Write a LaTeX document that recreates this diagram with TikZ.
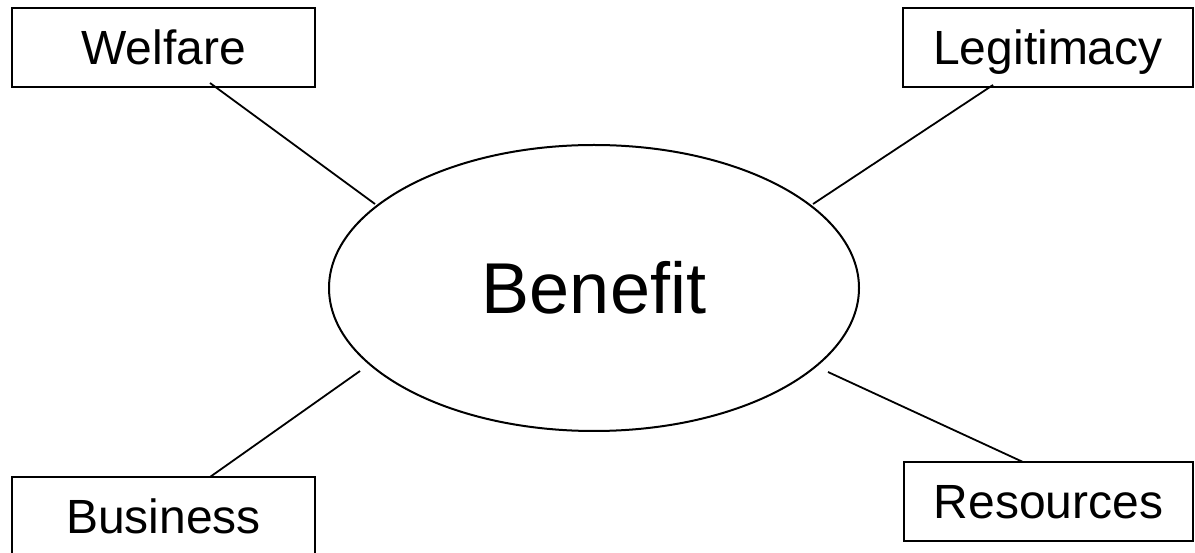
\documentclass[tikz,border=0pt]{standalone}
\usepackage{fontspec}
\setmainfont{Liberation Sans}
\usetikzlibrary{shapes.geometric,calc}
\tikzset{
  box/.style={draw, line width=2pt, rectangle, inner sep=0pt, outer sep=0pt,
    minimum width=#1, minimum height=79pt, text height=34pt, text depth=0pt,
    font=\fontsize{48}{56}\selectfont},
  oval/.style={draw, line width=2pt, ellipse, inner sep=0pt, outer sep=0pt,
    minimum width=530pt, minimum height=286pt, text height=52pt, text depth=0pt,
    font=\fontsize{72}{86}\selectfont},
  link/.style={line width=1.8pt}
}
\begin{document}
\begin{tikzpicture}[x=1pt,y=-1pt]
\useasboundingbox (0,0) rectangle (1195,553);
\node[box=303pt] (wel) at (163.5,47.5) {Welfare};
\node[box=290pt] (leg) at (1048,47.5) {Legitimacy};
\node[box=303pt] (bus) at (163.5,516.5) {Business};
\node[box=289pt] (res) at (1048.5,501.5) {Resources};
\node[oval] (ben) at (594,288) {Benefit};
\draw[link] ($(wel.south west)+(198,-4)$) -- ($(ben.center)+(-219,-84)$);
\draw[link] ($(leg.south west)+(90,-2)$) -- ($(ben.center)+(219,-84)$);
\draw[link] ($(bus.north west)+(198,0)$) -- ($(ben.center)+(-234,83)$);
\draw[link] ($(res.north west)+(119,0)$) -- ($(ben.center)+(234,84)$);
\end{tikzpicture}
\end{document}
